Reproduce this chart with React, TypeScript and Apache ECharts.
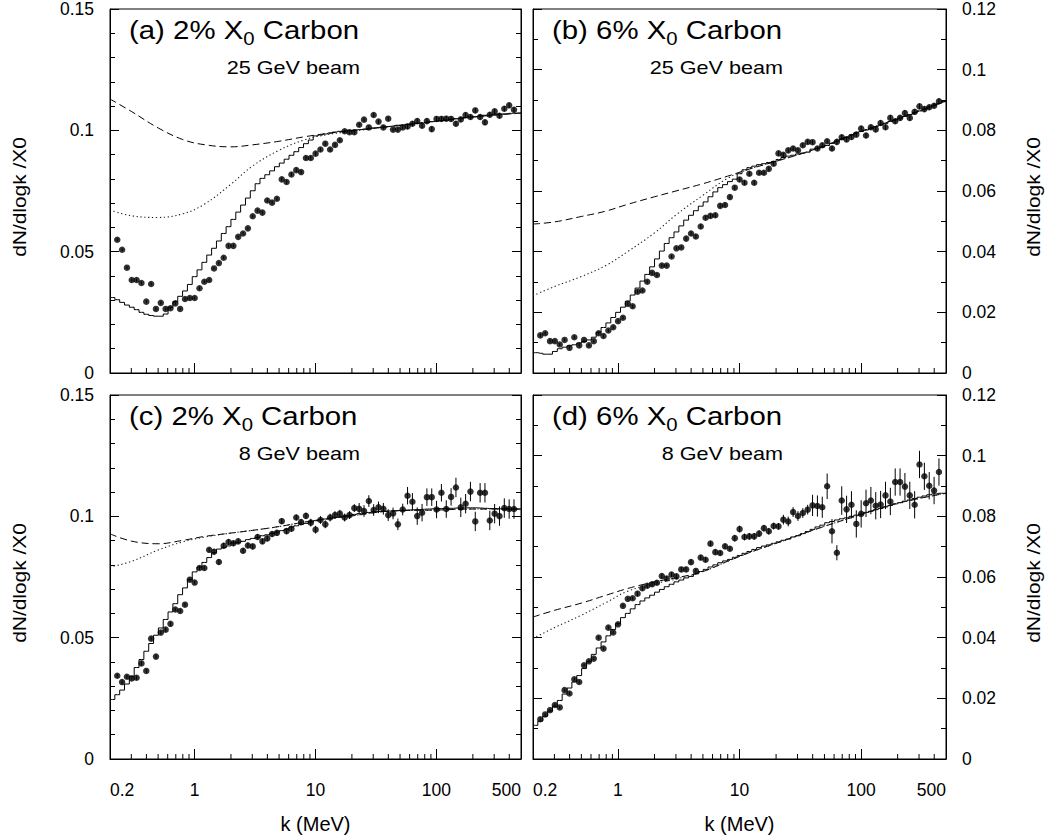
import React, { useEffect, useRef } from "react";
import * as echarts from "echarts";

const FONT = "'Liberation Sans', Arial, Helvetica, sans-serif";

// log-spaced bin centres (25 bins per decade from 0.2 MeV)
const BIN_K = [
  0.2094, 0.2296, 0.2518, 0.2761, 0.3027, 0.3319, 0.3639, 0.3991, 0.4376, 0.4798,
  0.5261, 0.5768, 0.6325, 0.6935, 0.7604, 0.8338, 0.9142, 1.002, 1.099, 1.205,
  1.321, 1.449, 1.589, 1.742, 1.91,
  2.094, 2.296, 2.518, 2.761, 3.027, 3.319, 3.639, 3.991, 4.376, 4.798,
  5.261, 5.768, 6.325, 6.935, 7.604, 8.338, 9.142, 10.02, 10.99, 12.05,
  13.21, 14.49, 15.89, 17.42, 19.1,
  20.94, 22.96, 25.18, 27.61, 30.27, 33.19, 36.39, 39.91, 43.76, 47.98,
  52.61, 57.68, 63.25, 69.35, 76.04, 83.38, 91.42, 100.2, 109.9, 120.5,
  132.1, 144.9, 158.9, 174.2, 191.0,
  209.4, 229.6, 251.8, 276.1, 302.7, 331.9, 363.9, 399.1, 437.6, 479.8,
];
const DATA_K = BIN_K.slice(1, 84);
const CURVE_K = [0.2, 0.3, 0.5, 0.8, 1.2, 2, 3, 5, 8, 12, 20, 40, 100, 200, 500];
const MINOR_K = [0.3, 0.4, 0.5, 0.6, 0.7, 0.8, 0.9, 2, 3, 4, 5, 6, 7, 8, 9, 20, 30, 40, 50, 60, 70, 80, 90, 200, 300, 400];
const X_MIN = 0.2;
const X_MAX = 500;

// ---------- (a) 2% X0, 25 GeV ----------
const A_Y = [
  0.0549, 0.0508, 0.0434, 0.0383, 0.0383, 0.0371, 0.0294, 0.0367, 0.0264, 0.0289,
  0.0264, 0.0267, 0.0287, 0.0264, 0.0305, 0.0309, 0.0309, 0.0349, 0.0376, 0.0383,
  0.0431, 0.0453, 0.0475, 0.0524, 0.0524, 0.0561, 0.0575, 0.0596, 0.0646, 0.0669,
  0.0661, 0.0711, 0.0702, 0.0718, 0.0798, 0.0787, 0.0818, 0.0836, 0.0828, 0.0886,
  0.0886, 0.0904, 0.0921, 0.0945, 0.0921, 0.094, 0.0959, 0.0996, 0.0992, 0.0992,
  0.1023, 0.1044, 0.1012, 0.1063, 0.1036, 0.1012, 0.1048, 0.1003, 0.1003, 0.1012,
  0.1016, 0.1027, 0.1038, 0.1019, 0.1038, 0.1005, 0.1047, 0.1047, 0.1048, 0.1047,
  0.1027, 0.1045, 0.1063, 0.1055, 0.1082, 0.1055, 0.1033, 0.1064, 0.1078, 0.106,
  0.1089, 0.1103, 0.1085,
];
const A_E = [
  0.0006, 0.0006, 0.0006, 0.0006, 0.0006, 0.0006, 0.0006, 0.0006, 0.0006, 0.0006,
  0.0006, 0.0006, 0.0006, 0.0006, 0.0006, 0.0006, 0.0006, 0.0006, 0.0006, 0.0006,
  0.0006, 0.0006, 0.0006, 0.0006, 0.0006, 0.0006, 0.0006, 0.0006, 0.0006, 0.0006,
  0.0008, 0.0008, 0.0008, 0.0008, 0.0008, 0.0008, 0.0008, 0.0008, 0.0008, 0.0008,
  0.0008, 0.0008, 0.0008, 0.0008, 0.0008, 0.0008, 0.0008, 0.0008, 0.0008, 0.0008,
  0.0008, 0.0008, 0.0008, 0.0008, 0.0008, 0.0008, 0.0008, 0.0008, 0.0008, 0.0008,
  0.0011, 0.0011, 0.0011, 0.0011, 0.0011, 0.0011, 0.0011, 0.0011, 0.0011, 0.0011,
  0.0011, 0.0011, 0.0011, 0.0011, 0.0011, 0.0011, 0.0011, 0.0011, 0.0011, 0.0011,
  0.0011, 0.0011, 0.0011,
];
const A_H = [
  0.0311, 0.0302, 0.0291, 0.028, 0.0271, 0.0261, 0.025, 0.0242, 0.0237, 0.0234,
  0.0234, 0.0243, 0.0271, 0.0294, 0.0316, 0.0338, 0.0365, 0.0397, 0.0425, 0.0456,
  0.0486, 0.0514, 0.0544, 0.0575, 0.0603, 0.0633, 0.0663, 0.0692, 0.0721, 0.0751,
  0.078, 0.0802, 0.0817, 0.0833, 0.085, 0.0865, 0.0881, 0.0897, 0.0912, 0.0929,
  0.0945, 0.096, 0.0977, 0.0981, 0.0985, 0.0989, 0.0993, 0.0996, 0.0997, 0.1,
  0.1001, 0.1003, 0.1005, 0.1007, 0.101, 0.1012, 0.1014, 0.1016, 0.1018, 0.1021,
  0.1022, 0.1025, 0.1026, 0.1029, 0.103, 0.1033, 0.1036, 0.1038, 0.1041, 0.1042,
  0.1045, 0.1048, 0.1049, 0.1052, 0.1055, 0.1056, 0.1059, 0.1062, 0.1063, 0.1066,
  0.1067, 0.1068, 0.107, 0.1071, 0.1071,
];
const A_DASH = [0.1129, 0.1078, 0.101, 0.0962, 0.0941, 0.0932, 0.094, 0.0955, 0.0973, 0.0986, 0.0999, 0.1015, 0.1038, 0.1055, 0.1071];
const A_DOT = [0.0672, 0.0648, 0.0641, 0.0656, 0.0695, 0.0778, 0.0852, 0.0918, 0.096, 0.0981, 0.0996, 0.1015, 0.1038, 0.1055, 0.1071];

// ---------- (b) 6% X0, 25 GeV ----------
const B_Y = [
  0.0124, 0.0131, 0.0105, 0.0105, 0.0094, 0.0109, 0.0083, 0.0118, 0.0091, 0.0109,
  0.0091, 0.0105, 0.0131, 0.0122, 0.014, 0.0151, 0.0171, 0.0182, 0.0228, 0.022,
  0.0268, 0.0272, 0.0301, 0.033, 0.0323, 0.0354, 0.0354, 0.0384, 0.0411, 0.0414,
  0.0443, 0.046, 0.045, 0.0483, 0.0512, 0.0518, 0.052, 0.0551, 0.0554, 0.058,
  0.0611, 0.0638, 0.0627, 0.0657, 0.0627, 0.066, 0.066, 0.0673, 0.069, 0.0724,
  0.0719, 0.0734, 0.074, 0.0734, 0.0751, 0.0762, 0.0761, 0.074, 0.0751, 0.0764,
  0.074, 0.0762, 0.0777, 0.077, 0.0778, 0.0786, 0.0806, 0.0783, 0.081, 0.0803,
  0.0824, 0.081, 0.0841, 0.083, 0.0841, 0.0857, 0.0841, 0.0861, 0.0879, 0.087,
  0.0876, 0.0881, 0.0896,
];
const B_E = [
  0.0005, 0.0005, 0.0005, 0.0005, 0.0005, 0.0005, 0.0005, 0.0005, 0.0005, 0.0005,
  0.0005, 0.0005, 0.0005, 0.0005, 0.0005, 0.0005, 0.0005, 0.0005, 0.0005, 0.0005,
  0.0005, 0.0005, 0.0005, 0.0005, 0.0005, 0.0005, 0.0005, 0.0005, 0.0005, 0.0005,
  0.0007, 0.0007, 0.0007, 0.0007, 0.0007, 0.0007, 0.0007, 0.0007, 0.0007, 0.0007,
  0.0007, 0.0007, 0.0007, 0.0007, 0.0007, 0.0007, 0.0007, 0.0007, 0.0007, 0.0007,
  0.0007, 0.0007, 0.0007, 0.0007, 0.0007, 0.0007, 0.0007, 0.0007, 0.0007, 0.0007,
  0.0009, 0.0009, 0.0009, 0.0009, 0.0009, 0.0009, 0.0009, 0.0009, 0.0009, 0.0009,
  0.0009, 0.0009, 0.0009, 0.0009, 0.0009, 0.0009, 0.0009, 0.0009, 0.0009, 0.0009,
  0.0009, 0.0009, 0.0009,
];
const B_H = [
  0.0067, 0.0065, 0.0062, 0.0062, 0.0071, 0.008, 0.0085, 0.009, 0.0093, 0.0099,
  0.0104, 0.0109, 0.0118, 0.0134, 0.015, 0.0165, 0.0183, 0.02, 0.0217, 0.0237,
  0.0257, 0.028, 0.0303, 0.0325, 0.035, 0.0376, 0.0402, 0.0427, 0.0446, 0.0465,
  0.0485, 0.0504, 0.052, 0.0535, 0.055, 0.0564, 0.0581, 0.0597, 0.0611, 0.0621,
  0.0631, 0.0639, 0.0657, 0.067, 0.0677, 0.0682, 0.0687, 0.069, 0.0694, 0.0697,
  0.0704, 0.071, 0.0715, 0.0718, 0.0722, 0.0725, 0.0728, 0.0738, 0.0741, 0.0745,
  0.075, 0.0757, 0.0764, 0.0771, 0.0777, 0.0785, 0.0792, 0.0796, 0.0801, 0.0807,
  0.0812, 0.0818, 0.0823, 0.0829, 0.0834, 0.084, 0.0846, 0.0852, 0.0858, 0.0864,
  0.087, 0.0877, 0.0883, 0.0889, 0.0895,
];
const B_DASH = [0.0491, 0.0498, 0.0516, 0.0534, 0.0556, 0.0581, 0.06, 0.0624, 0.0649, 0.0672, 0.0698, 0.0735, 0.0796, 0.0838, 0.0896];
const B_DOT = [0.0255, 0.0285, 0.0318, 0.0355, 0.04, 0.0462, 0.0521, 0.0586, 0.0642, 0.0672, 0.0698, 0.0735, 0.0796, 0.0838, 0.0896];

// ---------- (c) 2% X0, 8 GeV ----------
const C_Y = [
  0.0343, 0.0317, 0.0339, 0.0332, 0.0335, 0.0394, 0.0363, 0.0496, 0.0422, 0.0521,
  0.0533, 0.0557, 0.0616, 0.061, 0.0636, 0.0739, 0.0727, 0.0787, 0.0787, 0.0862,
  0.0854, 0.0812, 0.0879, 0.0894, 0.0889, 0.0897, 0.0858, 0.088, 0.0876, 0.0915,
  0.0897, 0.0909, 0.0927, 0.0932, 0.098, 0.0939, 0.0949, 0.0995, 0.0976, 0.1002,
  0.0974, 0.0945, 0.0985, 0.0967, 0.0995, 0.1005, 0.1011, 0.0995, 0.1005, 0.1034,
  0.1031, 0.1022, 0.1063, 0.1026, 0.1037, 0.1031, 0.1005, 0.1012, 0.0967, 0.1028,
  0.1085, 0.106, 0.1001, 0.1015, 0.1079, 0.1079, 0.1028, 0.1097, 0.103, 0.108,
  0.1119, 0.1037, 0.1052, 0.1102, 0.0979, 0.1097, 0.1097, 0.0983, 0.1011, 0.1001,
  0.1034, 0.103, 0.103,
];
const C_E = [
  0.0008, 0.0008, 0.0008, 0.0008, 0.0008, 0.0008, 0.0008, 0.0008, 0.0008, 0.0008,
  0.0008, 0.0008, 0.0008, 0.0008, 0.0008, 0.0008, 0.0008, 0.0008, 0.0008, 0.0008,
  0.0012, 0.0012, 0.0012, 0.0012, 0.0012, 0.0012, 0.0012, 0.0012, 0.0012, 0.0012,
  0.0012, 0.0012, 0.0012, 0.0012, 0.0012, 0.0012, 0.0012, 0.0012, 0.0012, 0.0012,
  0.0016, 0.0016, 0.0016, 0.0016, 0.0016, 0.0016, 0.0016, 0.0016, 0.0016, 0.0016,
  0.0024, 0.0024, 0.0024, 0.0024, 0.0024, 0.0024, 0.0024, 0.0024, 0.0024, 0.0024,
  0.0036, 0.0036, 0.0036, 0.0036, 0.0036, 0.0036, 0.0036, 0.0036, 0.0036, 0.0036,
  0.004, 0.004, 0.004, 0.004, 0.004, 0.004, 0.004, 0.004, 0.004, 0.004,
  0.004, 0.004, 0.004,
];
const C_H = [
  0.0245, 0.0265, 0.0284, 0.0309, 0.0341, 0.0377, 0.041, 0.0444, 0.0476, 0.051,
  0.054, 0.0575, 0.0606, 0.064, 0.0677, 0.0705, 0.0739, 0.0771, 0.0791, 0.081,
  0.083, 0.085, 0.0865, 0.0871, 0.0878, 0.089, 0.0893, 0.0897, 0.0904, 0.0909,
  0.0913, 0.092, 0.0924, 0.0929, 0.0935, 0.0941, 0.0947, 0.0956, 0.0961, 0.0967,
  0.0971, 0.0976, 0.0982, 0.0986, 0.0989, 0.0993, 0.0995, 0.0998, 0.1001, 0.1004,
  0.1008, 0.1011, 0.1013, 0.1016, 0.1019, 0.102, 0.1021, 0.1022, 0.1023, 0.1024,
  0.1025, 0.1026, 0.1027, 0.1028, 0.1029, 0.103, 0.1031, 0.1032, 0.1032, 0.1033,
  0.1033, 0.1034, 0.1034, 0.1035, 0.1035, 0.1035, 0.1034, 0.1033, 0.1032, 0.1032,
  0.1031, 0.1031, 0.103, 0.103, 0.103,
];
const C_DASH = [0.0928, 0.0898, 0.0887, 0.0901, 0.0917, 0.0931, 0.0942, 0.0958, 0.0976, 0.0989, 0.1002, 0.1021, 0.1026, 0.103, 0.103];
const C_DOT = [0.0791, 0.0814, 0.0861, 0.0895, 0.0914, 0.0931, 0.0942, 0.0958, 0.0976, 0.0989, 0.1002, 0.1021, 0.1026, 0.103, 0.103];

// ---------- (d) 6% X0, 8 GeV ----------
const D_Y = [
  0.0131, 0.0147, 0.0161, 0.0178, 0.017, 0.0227, 0.0216, 0.0263, 0.0254, 0.0309,
  0.0322, 0.0331, 0.04, 0.0364, 0.0433, 0.0417, 0.0444, 0.0505, 0.0528, 0.053,
  0.0545, 0.0563, 0.0571, 0.0576, 0.0581, 0.0603, 0.0595, 0.0608, 0.0602, 0.0625,
  0.0625, 0.0649, 0.062, 0.0664, 0.0657, 0.071, 0.0682, 0.0679, 0.0701, 0.0693,
  0.0728, 0.0758, 0.0732, 0.0734, 0.0734, 0.0743, 0.0761, 0.0751, 0.0768, 0.0767,
  0.0789, 0.0783, 0.0814, 0.0801, 0.0811, 0.0822, 0.0836, 0.0834, 0.083, 0.0899,
  0.0751, 0.068, 0.0852, 0.0823, 0.0838, 0.0775, 0.0808, 0.0843, 0.0852, 0.0835,
  0.0839, 0.0869, 0.0849, 0.0913, 0.0913, 0.0898, 0.0869, 0.0838, 0.0971, 0.0932,
  0.0901, 0.0885, 0.0946,
];
const D_E = [
  0.0005, 0.0005, 0.0005, 0.0005, 0.0005, 0.0005, 0.0005, 0.0005, 0.0005, 0.0005,
  0.0005, 0.0005, 0.0005, 0.0005, 0.0005, 0.0005, 0.0005, 0.0005, 0.0005, 0.0005,
  0.0008, 0.0008, 0.0008, 0.0008, 0.0008, 0.0008, 0.0008, 0.0008, 0.0008, 0.0008,
  0.0008, 0.0008, 0.0008, 0.0008, 0.0008, 0.0008, 0.0008, 0.0008, 0.0008, 0.0008,
  0.0011, 0.0011, 0.0011, 0.0011, 0.0011, 0.0011, 0.0011, 0.0011, 0.0011, 0.0011,
  0.0016, 0.0016, 0.0016, 0.0016, 0.0016, 0.0016, 0.0035, 0.0035, 0.0035, 0.0042,
  0.004, 0.0025, 0.0047, 0.0045, 0.0045, 0.0045, 0.0045, 0.0045, 0.0045, 0.0045,
  0.0045, 0.0045, 0.0045, 0.0045, 0.0045, 0.0045, 0.0045, 0.0045, 0.0045, 0.0045,
  0.0045, 0.0045, 0.0045,
];
const D_H = [
  0.0111, 0.0125, 0.0141, 0.0158, 0.0174, 0.0193, 0.0214, 0.0234, 0.0254, 0.0275,
  0.0298, 0.0321, 0.0345, 0.0366, 0.0386, 0.0406, 0.0427, 0.0446, 0.0466, 0.048,
  0.0495, 0.0509, 0.0521, 0.0531, 0.054, 0.055, 0.0559, 0.0568, 0.0576, 0.0584,
  0.059, 0.0597, 0.0602, 0.061, 0.0618, 0.0625, 0.0633, 0.064, 0.0647, 0.0653,
  0.0658, 0.0665, 0.0671, 0.0678, 0.0684, 0.0691, 0.0697, 0.0702, 0.0706, 0.0711,
  0.0716, 0.0721, 0.0725, 0.0732, 0.0736, 0.0743, 0.075, 0.0757, 0.0765, 0.0771,
  0.0779, 0.0783, 0.0788, 0.0792, 0.0795, 0.08, 0.0804, 0.0807, 0.0813, 0.0817,
  0.0822, 0.0826, 0.0831, 0.0836, 0.0841, 0.0845, 0.085, 0.0854, 0.0859, 0.0863,
  0.0867, 0.0871, 0.0874, 0.0876, 0.0876,
];
const D_DASH = [0.0468, 0.049, 0.0514, 0.054, 0.0562, 0.0584, 0.0597, 0.0618, 0.0652, 0.068, 0.0711, 0.0754, 0.0806, 0.0843, 0.0876];
const D_DOT = [0.0397, 0.0433, 0.0474, 0.0516, 0.0553, 0.0578, 0.0593, 0.0618, 0.0652, 0.068, 0.0711, 0.0754, 0.0806, 0.0843, 0.0876];

const PANELS = [
  { tag: "a", pct: "2%", beam: "25 GeV beam", y: A_Y, e: A_E, h: A_H, dash: A_DASH, dot: A_DOT, ymax: 0.15, yint: 0.05, minor: 5, right: false, bottom: false, left: 110, top: 9, width: 411 },
  { tag: "b", pct: "6%", beam: "25 GeV beam", y: B_Y, e: B_E, h: B_H, dash: B_DASH, dot: B_DOT, ymax: 0.12, yint: 0.02, minor: 2, right: true, bottom: false, left: 533, top: 9, width: 413 },
  { tag: "c", pct: "2%", beam: "8 GeV beam", y: C_Y, e: C_E, h: C_H, dash: C_DASH, dot: C_DOT, ymax: 0.15, yint: 0.05, minor: 5, right: false, bottom: true, left: 110, top: 395, width: 411 },
  { tag: "d", pct: "6%", beam: "8 GeV beam", y: D_Y, e: D_E, h: D_H, dash: D_DASH, dot: D_DOT, ymax: 0.12, yint: 0.02, minor: 2, right: true, bottom: true, left: 533, top: 395, width: 413 },
];
const PANEL_H = 364;

const fmtX = (v: number) => String(+Number(v).toPrecision(3));
const fmtY = (v: number) => String(+Number(v).toFixed(3));

function buildOption() {
  const grid: any[] = [];
  const xAxis: any[] = [];
  const yAxis: any[] = [];
  const series: any[] = [];
  const graphic: any[] = [];
  const black = "#000";

  PANELS.forEach((p, i) => {
    grid.push({ left: p.left, top: p.top, width: p.width, height: PANEL_H, show: true, borderColor: black, borderWidth: 1, backgroundColor: "transparent" });
    xAxis.push({
      type: "log",
      logBase: 10,
      gridIndex: i,
      min: X_MIN,
      max: X_MAX,
      axisLine: { show: true, lineStyle: { color: black, width: 1 } },
      axisTick: { show: true, inside: true, length: 10, lineStyle: { color: black, width: 1 } },
      minorTick: { show: false },
      splitLine: { show: false },
      axisLabel: {
        show: p.bottom,
        margin: 22,
        fontSize: 17.5,
        color: black,
        fontFamily: FONT,
        showMinLabel: true,
        showMaxLabel: true,
        alignMinLabel: "left",
        alignMaxLabel: "right",
        formatter: fmtX,
      },
      name: p.bottom ? "k (MeV)" : "",
      nameLocation: "middle",
      nameGap: 55,
      nameTextStyle: { fontSize: 20, color: black, fontFamily: FONT },
    });
    const yBase = {
      type: "value",
      gridIndex: i,
      min: 0,
      max: p.ymax,
      interval: p.yint,
      axisLine: { show: true, lineStyle: { color: black, width: 1 } },
      axisTick: { show: true, inside: true, length: 9, lineStyle: { color: black, width: 1 } },
      minorTick: { show: true, splitNumber: p.minor, length: 5, lineStyle: { color: black, width: 1 } },
      splitLine: { show: false },
      minorSplitLine: { show: false },
    };
    yAxis.push({
      ...yBase,
      position: p.right ? "right" : "left",
      axisLabel: { show: true, margin: 16, fontSize: 17.5, color: black, fontFamily: FONT, formatter: fmtY },
    });
    yAxis.push({
      ...yBase,
      position: p.right ? "left" : "right",
      axisLabel: { show: false },
    });
    const yi = 2 * i;
    const histData = [[X_MIN, p.h[0]], ...BIN_K.map((k, j) => [k, p.h[j]]), [X_MAX, p.h[p.h.length - 1]]];
    series.push({
      type: "line", xAxisIndex: i, yAxisIndex: yi, data: histData, step: "middle", symbol: "none",
      lineStyle: { color: black, width: 1 }, silent: true, z: 2,
    });
    series.push({
      type: "line", xAxisIndex: i, yAxisIndex: yi, data: CURVE_K.map((k, j) => [k, p.dash[j]]), smooth: 0.4, symbol: "none",
      lineStyle: { color: black, width: 1, type: [7, 4] }, silent: true, z: 2,
    });
    series.push({
      type: "line", xAxisIndex: i, yAxisIndex: yi, data: CURVE_K.map((k, j) => [k, p.dot[j]]), smooth: 0.4, symbol: "none",
      lineStyle: { color: "#222", width: 1.1, type: [1.3, 2.6] }, silent: true, z: 2,
    });
    series.push({
      type: "custom", xAxisIndex: i, yAxisIndex: yi, silent: true, z: 3,
      encode: { x: 0, y: 1 },
      data: DATA_K.map((k, j) => [k, p.y[j], p.e[j]]),
      renderItem: (_params: any, api: any) => {
        const x = api.value(0);
        const y = api.value(1);
        const e = api.value(2);
        const a = api.coord([x, y - e]);
        const b = api.coord([x, y + e]);
        return { type: "line", shape: { x1: a[0], y1: a[1], x2: b[0], y2: b[1] }, style: { stroke: black, lineWidth: 1 } };
      },
    });
    series.push({
      type: "scatter", xAxisIndex: i, yAxisIndex: yi, silent: true, z: 4,
      data: DATA_K.map((k, j) => [k, p.y[j]]),
      symbol: "circle", symbolSize: 6.5, itemStyle: { color: black },
    });
    series.push({
      type: "custom", xAxisIndex: i, yAxisIndex: yi, silent: true, z: 5,
      encode: { x: 0, y: 1 },
      data: MINOR_K.map((k) => [k, 0]),
      renderItem: (_params: any, api: any) => {
        const pt = api.coord([api.value(0), api.value(1)]);
        return { type: "line", shape: { x1: pt[0], y1: pt[1], x2: pt[0], y2: pt[1] - 5 }, style: { stroke: black, lineWidth: 1 } };
      },
    });

    graphic.push({
      type: "text",
      x: p.left + 19,
      y: p.top + 3,
      scaleX: 1.13,
      silent: true,
      style: {
        text: `{m|(${p.tag}) ${p.pct} X}{s|0}{m| Carbon}`,
        align: "left",
        verticalAlign: "top",
        fill: black,
        rich: {
          m: { fontSize: 26, fontFamily: FONT, lineHeight: 36, fill: black },
          s: { fontSize: 18, fontFamily: FONT, lineHeight: 8, verticalAlign: "bottom", fill: black },
        },
      },
    });
    graphic.push({
      type: "text",
      x: p.left + 250,
      y: p.top + 59,
      scaleX: 1.2,
      silent: true,
      style: { text: p.beam, fontSize: 18, fontFamily: FONT, fill: black, align: "right", verticalAlign: "middle" },
    });
    graphic.push({
      type: "text",
      x: p.right ? 1033 : 19,
      y: p.top + 188,
      rotation: Math.PI / 2,
      scaleX: 1.1,
      silent: true,
      style: { text: "dN/dlogk /X0", fontSize: 19, fontFamily: FONT, fill: black, align: "center", verticalAlign: "middle" },
    });
  });

  return {
    animation: false,
    backgroundColor: "#fff",
    textStyle: { fontFamily: FONT, color: "#000" },
    grid,
    xAxis,
    yAxis,
    series,
    graphic,
  };
}

export default function App() {
  const ref = useRef<HTMLDivElement>(null);
  useEffect(() => {
    if (!ref.current) return;
    const chart = echarts.init(ref.current, undefined, { renderer: "svg" });
    chart.setOption(buildOption() as any);
    return () => chart.dispose();
  }, []);
  return <div ref={ref} style={{ position: "absolute", left: 0, top: 0, width: 1054, height: 840, background: "#fff" }} />;
}
